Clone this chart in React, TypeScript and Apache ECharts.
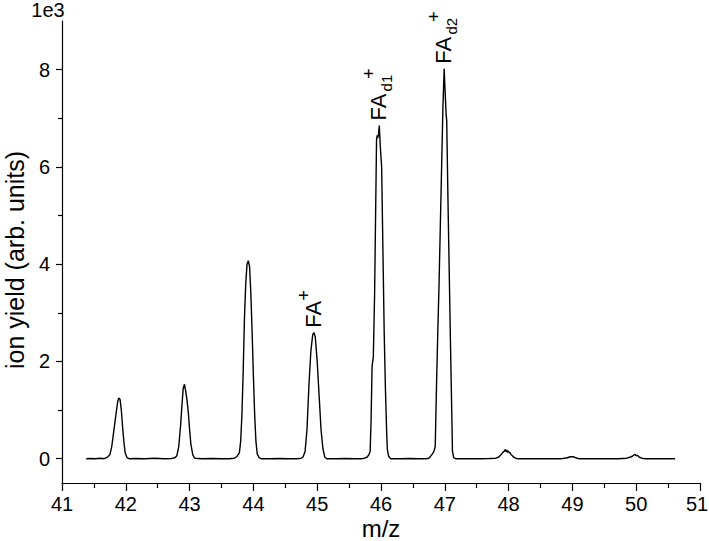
import { useEffect, useRef } from "react";
import * as echarts from "echarts";

// m/z values and ion yield (in units of 1e3)
const mz = [
  41.38, 41.45, 41.52, 41.6, 41.66, 41.7, 41.75, 41.78, 41.81, 41.84, 41.87, 41.89, 41.91, 41.93, 41.95, 41.97, 41.99, 42.02, 42.05,
  42.15, 42.3, 42.45, 42.6, 42.72, 42.77, 42.8, 42.83, 42.86, 42.88, 42.9, 42.92, 42.94, 42.96, 42.98, 43.0, 43.02, 43.05, 43.08,
  43.2, 43.35, 43.5, 43.62, 43.7, 43.74, 43.78, 43.8, 43.82, 43.84, 43.86, 43.88, 43.9, 43.92, 43.94, 43.96, 43.98, 44.0, 44.02, 44.04, 44.06, 44.09, 44.12,
  44.25, 44.4, 44.55, 44.68, 44.75, 44.78, 44.81, 44.84, 44.87, 44.9, 44.93, 44.95, 44.97, 45.0, 45.03, 45.06, 45.09, 45.12, 45.15,
  45.3, 45.45, 45.6, 45.7, 45.74, 45.78, 45.81, 45.83, 45.845, 45.86, 45.88, 45.9, 45.92, 45.93, 45.94, 45.95, 45.96, 45.973, 45.99, 46.01, 46.03, 46.05, 46.07, 46.09, 46.1, 46.12, 46.15,
  46.3, 46.45, 46.6, 46.7, 46.75, 46.79, 46.83, 46.85, 46.87, 46.89, 46.91, 46.93, 46.95, 46.97, 46.99, 47.0, 47.02, 47.03, 47.05, 47.07, 47.09, 47.11, 47.12, 47.14, 47.17,
  47.35, 47.55, 47.7, 47.8, 47.84, 47.88, 47.91, 47.93, 47.95, 47.96, 47.97, 47.98, 47.99, 48.01, 48.02, 48.04, 48.06, 48.08, 48.11, 48.14,
  48.35, 48.6, 48.8, 48.85, 48.92, 48.97, 49.01, 49.05, 49.1,
  49.3, 49.55, 49.72, 49.78, 49.85, 49.9, 49.94, 49.97, 49.98, 50.0, 50.02, 50.05, 50.09, 50.14,
  50.3, 50.45, 50.61,
];
const ionYield = [
  0.0, 0.005, 0.0, 0.008, 0.0, 0.02, 0.08, 0.25, 0.55, 0.85, 1.15, 1.25, 1.22, 1.0, 0.65, 0.35, 0.12, 0.02, 0.0,
  0.005, 0.0, 0.008, 0.0, 0.005, 0.02, 0.06, 0.25, 0.7, 1.1, 1.45, 1.53, 1.38, 1.2, 0.95, 0.6, 0.3, 0.08, 0.01,
  0.0, 0.005, 0.0, 0.0, 0.01, 0.04, 0.12, 0.35, 0.9, 1.8, 2.9, 3.6, 4.0, 4.07, 3.95, 3.4, 2.6, 1.7, 0.9, 0.35, 0.1, 0.02, 0.0,
  0.0, 0.005, 0.0, 0.0, 0.01, 0.04, 0.15, 0.6, 1.5, 2.2, 2.55, 2.59, 2.5, 2.0, 1.3, 0.6, 0.2, 0.03, 0.0,
  0.0, 0.005, 0.0, 0.0, 0.01, 0.03, 0.08, 0.15, 0.8, 1.9, 2.1, 3.4, 5.5, 6.55, 6.65, 6.6, 6.65, 6.85, 6.4, 6.0, 4.3, 2.6, 1.4, 0.5, 0.18, 0.05, 0.0,
  0.0, 0.005, 0.0, 0.0, 0.01, 0.07, 0.15, 0.25, 1.5, 2.6, 3.6, 4.8, 6.0, 7.2, 8.02, 7.7, 7.1, 6.95, 5.3, 3.8, 2.3, 0.9, 0.15, 0.02, 0.0,
  0.0, 0.0, 0.005, 0.01, 0.03, 0.08, 0.13, 0.15, 0.19, 0.14, 0.18, 0.13, 0.16, 0.12, 0.13, 0.08, 0.06, 0.03, 0.01, 0.0,
  0.0, 0.0, 0.0, 0.005, 0.02, 0.04, 0.04, 0.02, 0.0,
  0.0, 0.0, 0.0, 0.005, 0.01, 0.03, 0.05, 0.08, 0.09, 0.06, 0.07, 0.03, 0.01, 0.0,
  0.0, 0.0, 0.0,
];

const xTickValues = [41, 42, 43, 44, 45, 46, 47, 48, 49, 50, 51];
const xMinorTickValues = [41.5, 42.5, 43.5, 44.5, 45.5, 46.5, 47.5, 48.5, 49.5, 50.5];
const yTickValues = [0, 2, 4, 6, 8];
const yMinorTickValues = [1, 3, 5, 7];

const peakLabels = [
  { x: 44.95, y: 2.59, main: "FA", sub: "", sup: "+" },
  { x: 45.973, y: 6.85, main: "FA", sub: "d1", sup: "+" },
  { x: 46.99, y: 8.02, main: "FA", sub: "d2", sup: "+" },
];

const FONT = "'Liberation Sans', Arial, Helvetica, sans-serif";

export default function App() {
  const ref = useRef<HTMLDivElement>(null);

  useEffect(() => {
    if (!ref.current) return;
    const chart = echarts.init(ref.current, undefined, { renderer: "svg" });
    const data = mz.map((x, i) => [x, ionYield[i]]);
    const axisColor = "#000";
    const lastX = xTickValues[xTickValues.length - 1];

    chart.setOption({
      animation: false,
      backgroundColor: "#fff",
      grid: { left: 62, right: 9, top: 21, bottom: 58, containLabel: false, outerBoundsMode: "none" },
      xAxis: [
        {
          type: "value",
          min: 41,
          max: 51,
          position: "bottom",
          axisLine: { show: true, onZero: false, lineStyle: { color: axisColor, width: 1.2 } },
          axisTick: { show: true, inside: false, length: 8, customValues: xTickValues, lineStyle: { color: axisColor, width: 1.2 } },
          axisLabel: {
            show: true,
            customValues: xTickValues,
            fontSize: 20,
            lineHeight: 20,
            color: "#000",
            fontFamily: FONT,
            margin: 11,
            formatter: (v: number) => (v === lastX ? `{last|${v}}` : `${v}`),
            rich: { last: { fontSize: 20, lineHeight: 20, color: "#000", fontFamily: FONT, padding: [0, 6, 0, 0] } },
          },
          splitLine: { show: false },
        },
        {
          type: "value",
          min: 41,
          max: 51,
          position: "bottom",
          axisLine: { show: false, onZero: false },
          axisTick: { show: true, inside: false, length: 5, customValues: xMinorTickValues, lineStyle: { color: axisColor, width: 1.2 } },
          axisLabel: { show: false },
          splitLine: { show: false },
        },
      ],
      yAxis: [
        {
          type: "value",
          min: -0.5,
          max: 9,
          position: "left",
          axisLine: { show: true, onZero: false, lineStyle: { color: axisColor, width: 1.2 } },
          axisTick: { show: true, inside: false, length: 6, customValues: yTickValues, lineStyle: { color: axisColor, width: 1.2 } },
          axisLabel: { show: true, customValues: yTickValues, fontSize: 20, color: "#000", fontFamily: FONT, margin: 12 },
          splitLine: { show: false },
        },
        {
          type: "value",
          min: -0.5,
          max: 9,
          position: "left",
          axisLine: { show: false, onZero: false },
          axisTick: { show: true, inside: false, length: 4, customValues: yMinorTickValues, lineStyle: { color: axisColor, width: 1.2 } },
          axisLabel: { show: false },
          splitLine: { show: false },
        },
      ],
      series: [
        {
          type: "line",
          xAxisIndex: 0,
          yAxisIndex: 0,
          data,
          showSymbol: false,
          symbol: "none",
          lineStyle: { color: "#000", width: 1.4 },
          smooth: false,
        },
      ],
    });

    const mainSize = 22;
    const smallSize = 15;
    const supSize = 18;
    const labelGraphics = peakLabels.map((p) => {
      const [px, py] = chart.convertToPixel({ xAxisIndex: 0, yAxisIndex: 0 }, [p.x, p.y]) as number[];
      const mainW = 1.278 * mainSize;
      const subW = p.sub ? 1.112 * smallSize : 0;
      const children: any[] = [
        { type: "text", x: 0, y: 0, style: { text: p.main, fontSize: mainSize, fontFamily: FONT, fill: "#000", align: "left", verticalAlign: "bottom" } },
      ];
      if (p.sub) {
        children.push({ type: "text", x: mainW + 1, y: 5, style: { text: p.sub, fontSize: smallSize, fontFamily: FONT, fill: "#000", align: "left", verticalAlign: "bottom" } });
      }
      children.push({ type: "text", x: mainW + subW - (p.sub ? 3 : 1), y: -11, style: { text: p.sup, fontSize: supSize, fontFamily: FONT, fill: "#000", align: "left", verticalAlign: "bottom" } });
      return { type: "group", x: px + 10, y: py - 5, rotation: Math.PI / 2, children };
    });

    chart.setOption({
      graphic: [
        { type: "text", x: 48, y: 10, style: { text: "1e3", fontSize: 20, fontFamily: FONT, fill: "#000", align: "center", verticalAlign: "middle" } },
        { type: "text", x: 15, y: 260, rotation: Math.PI / 2, style: { text: "ion yield (arb. units)", fontSize: 25, fontFamily: FONT, fill: "#000", align: "center", verticalAlign: "middle" } },
        { type: "text", x: 381, y: 528, style: { text: "m/z", fontSize: 24, lineHeight: 24, fontFamily: FONT, fill: "#000", align: "center", verticalAlign: "middle" } },
        ...labelGraphics,
      ],
    });

    return () => chart.dispose();
  }, []);

  return <div ref={ref} style={{ width: 709, height: 541, position: "absolute", left: 0, top: 0 }} />;
}
